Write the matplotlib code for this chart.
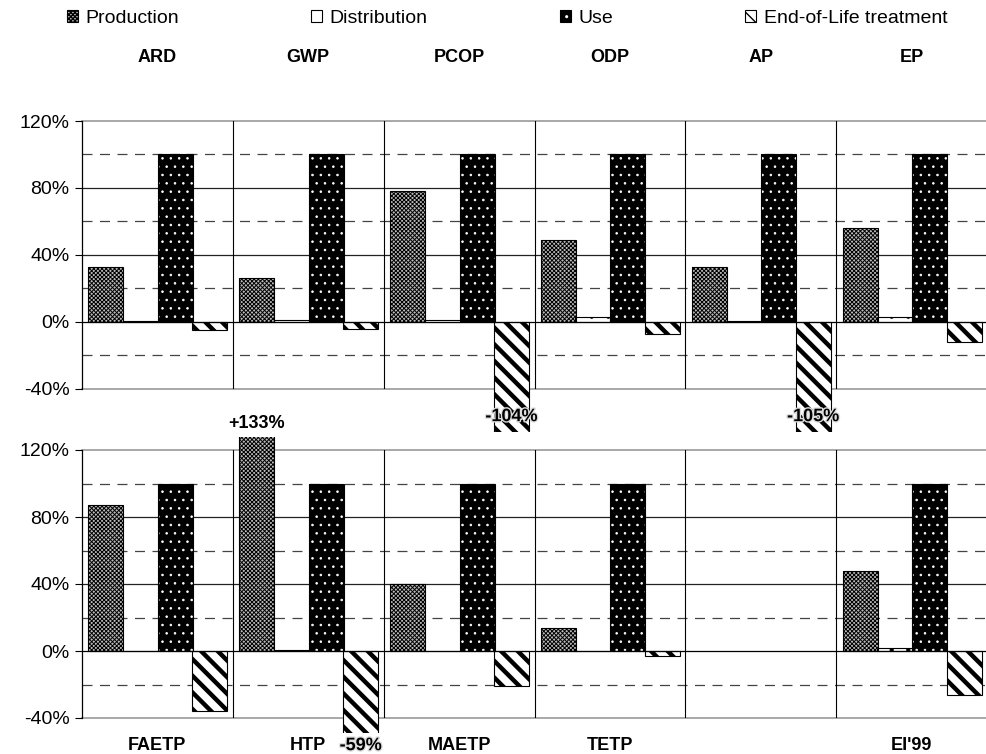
import numpy as np
import matplotlib
matplotlib.use("Agg")
import matplotlib.pyplot as plt
import matplotlib.patheffects as pe
from matplotlib.patches import Patch, Rectangle

plt.rcParams["font.family"] = ["Liberation Sans", "DejaVu Sans"]

# ── data ──────────────────────────────────────────────────────────────────────
stages = ["Production", "Distribution", "Use", "End-of-Life treatment"]

top_names = ["ARD", "GWP", "PCOP", "ODP", "AP", "EP"]
top_prod  = [33, 26, 78, 49, 33, 56]
top_dist  = [0.5, 1, 1, 3, 0.5, 3]
top_use   = [100, 100, 100, 100, 100, 100]
top_eol   = [-5, -4, -104, -7, -105, -12]

bot_names = ["FAETP", "HTP", "MAETP", "TETP", "", "EI'99"]
bot_prod  = [87, 133, 40, 14, np.nan, 48]
bot_dist  = [0, 0.5, 0, 0, np.nan, 1.5]
bot_use   = [100, 100, 100, 100, np.nan, 100]
bot_eol   = [-36, -59, -21, -3, np.nan, -26]

yticks = [-40, 0, 40, 80, 120]

# ── styles ────────────────────────────────────────────────────────────────────
styles = [
    dict(fc="#bbbbbb", hc="black", hatch="xxxxxxxx", hlw=0.7),
    dict(fc="white", hc="black", hatch=".", hlw=0.6),
    dict(fc="black", hc="white", hatch="..", hlw=0.6),
    dict(fc="white", hc="black", hatch="\\\\", hlw=3.2),
]
offsets = [0.159, 0.387, 0.619, 0.848]
bw = 0.232
halo = [pe.withStroke(linewidth=2, foreground="#dddddd")]


def draw_row(ax, names, series, lo, hi):
    n = len(names)
    x = np.arange(n)
    clip = Rectangle((-0.5, lo), n + 1, hi - lo, transform=ax.transData)
    for vals, st, off in zip(series, styles, offsets):
        with plt.rc_context({"hatch.linewidth": st["hlw"]}):
            bars = ax.bar(x + off, vals, width=bw, color=st["fc"], edgecolor=st["hc"],
                          hatch=st["hatch"], linewidth=0, zorder=3)
        outline = ax.bar(x + off, vals, width=bw, fill=False, edgecolor="black",
                         linewidth=0.8, zorder=4)
        for b in list(bars) + list(outline):
            b.set_clip_path(clip)

    for y in [100, 60, 20, -20]:
        ax.axhline(y, color="#444444", linewidth=0.9, linestyle=(0, (8, 6)), zorder=1)
    for y in [80, 40]:
        ax.axhline(y, color="#222222", linewidth=0.9, zorder=1)
    for y in [120, -40]:
        ax.axhline(y, color="#999999", linewidth=1.2, zorder=1, clip_on=False)
    ax.axhline(0, color="black", linewidth=0.9, zorder=5)
    for k in range(1, n):
        ax.axvline(k, color="black", linewidth=0.8, zorder=2)

    ax.set_xlim(0, n)
    ax.set_ylim(-40, 120)
    ax.set_xticks([])
    ax.set_yticks(yticks)
    ax.set_yticklabels([f"{t}%" for t in yticks], fontsize=14)
    ax.tick_params(axis="y", direction="out", length=5, width=0.8, pad=4)
    for s in ["top", "right", "bottom"]:
        ax.spines[s].set_visible(False)
    ax.spines["left"].set_linewidth(0.9)


fig = plt.figure(figsize=(9.87, 7.54), dpi=100)
ax_top = fig.add_axes([82 / 987, 1 - 389 / 754, 905 / 987, 268 / 754])
ax_bot = fig.add_axes([82 / 987, 1 - 718 / 754, 905 / 987, 268 / 754])

draw_row(ax_top, top_names, [top_prod, top_dist, top_use, top_eol], -65.5, 140)
draw_row(ax_bot, bot_names, [bot_prod, bot_dist, bot_use, bot_eol], -49, 128)

for k, name in enumerate(top_names):
    ax_top.text(k + 0.5, 158, name, ha="center", va="center", fontsize=13,
                fontweight="bold", clip_on=False)
for k, name in enumerate(bot_names):
    ax_bot.text(k + 0.5, -56.5, name, ha="center", va="center", fontsize=13,
                fontweight="bold", clip_on=False)

# labels for clipped bars
for ax, xpos, ypos, txt, fx in [
    (ax_top, 2 + offsets[3], -56.5, "-104%", halo),
    (ax_top, 4 + offsets[3], -56.5, "-105%", halo),
    (ax_bot, 1 + offsets[0], 136, "+133%", None),
    (ax_bot, 1 + offsets[3], -56.5, "-59%", halo),
]:
    ax.text(xpos, ypos, txt, ha="center", va="center", fontsize=13, fontweight="bold",
            zorder=6, clip_on=False, path_effects=fx)

handles = []
for st in styles:
    with plt.rc_context({"hatch.linewidth": min(st["hlw"], 1.5)}):
        fill = Patch(facecolor=st["fc"], edgecolor=st["hc"], hatch=st["hatch"], linewidth=0)
    edge = Patch(fill=False, edgecolor="black", linewidth=0.8)
    handles.append((fill, edge))
fig.legend(handles, stages, loc="center", bbox_to_anchor=(0.514, 0.976), ncol=4,
           frameon=False, fontsize=14, handlelength=0.55, handleheight=0.55,
           handletextpad=0.4, columnspacing=6.8)

fig.savefig("out.png", dpi=100)
